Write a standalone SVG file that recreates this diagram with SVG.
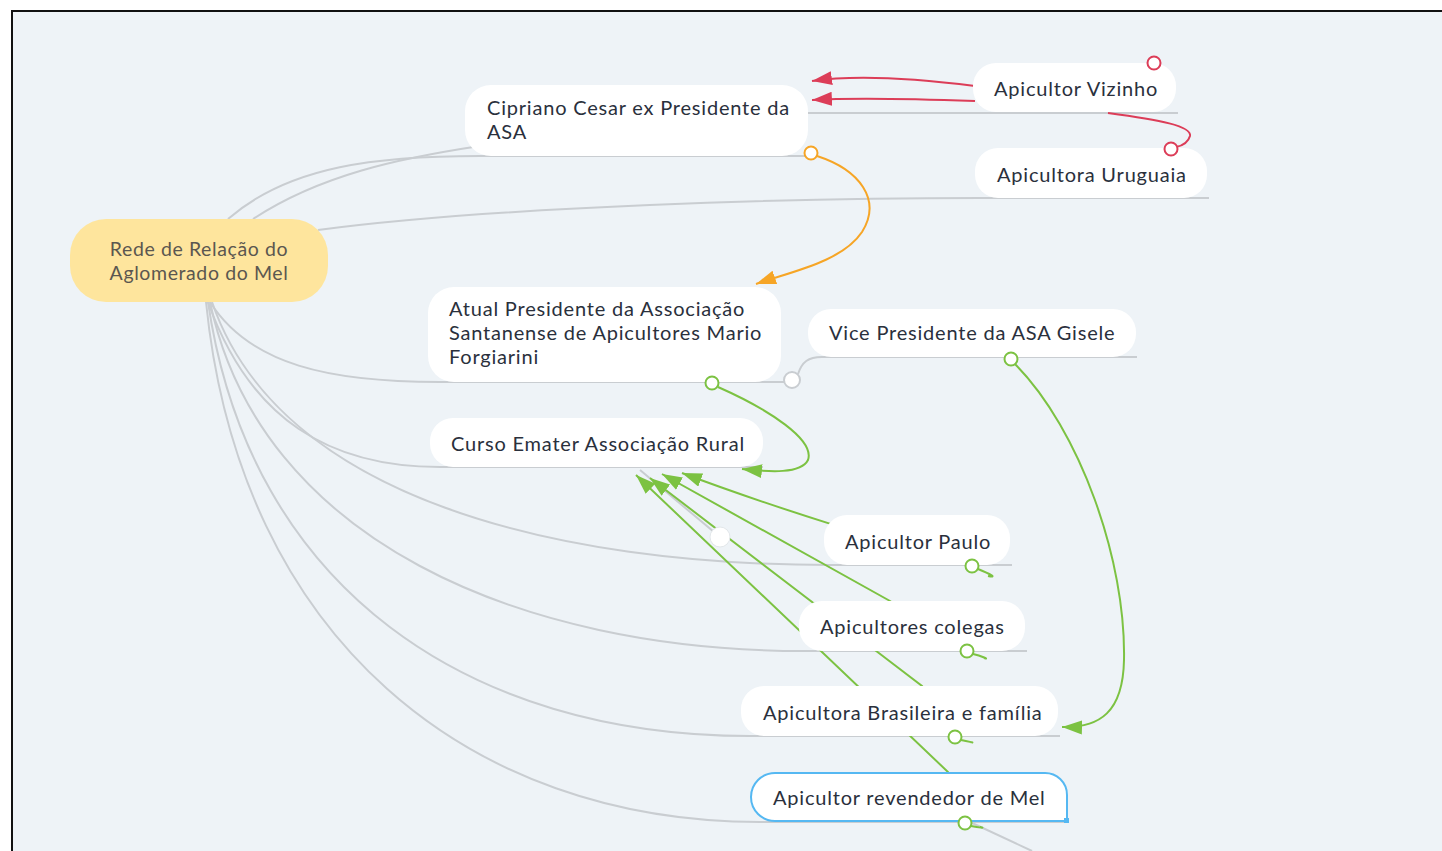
<svg xmlns="http://www.w3.org/2000/svg" width="1442" height="851" viewBox="0 0 1442 851">
<defs>
<style>
.bg{fill:#eef3f7}
.frame{fill:none;stroke:#111;stroke-width:2}
.br{fill:none;stroke:#c9cdd1;stroke-width:2}
.node{fill:#ffffff}
.root{fill:#fee59d}
.t{font-family:Lato,"Open Sans",sans-serif;font-size:20px;letter-spacing:0.8px;fill:#2a303c}
.rt{font-family:Lato,"Open Sans",sans-serif;font-size:19.5px;letter-spacing:0.6px;fill:#5b5750;text-anchor:middle}
.red{fill:none;stroke:#dc3d58;stroke-width:2}
.org{fill:none;stroke:#f6a526;stroke-width:2}
.grn{fill:none;stroke:#7cc242;stroke-width:2}
.hr{fill:#fff;stroke:#dc3d58;stroke-width:2}
.ho{fill:#fff;stroke:#f6a526;stroke-width:2}
.hg{fill:#fff;stroke:#7cc242;stroke-width:2}
</style>
<marker id="ar" viewBox="0 0 20 14" refX="20" refY="7" markerWidth="20" markerHeight="14" markerUnits="userSpaceOnUse" orient="auto"><path d="M0,0 L20,7 L0,14 Z" fill="#dc3d58"/></marker>
<marker id="ao" viewBox="0 0 20 14" refX="20" refY="7" markerWidth="20" markerHeight="14" markerUnits="userSpaceOnUse" orient="auto"><path d="M0,0 L20,7 L0,14 Z" fill="#f6a526"/></marker>
<marker id="ag" viewBox="0 0 20 14" refX="20" refY="7" markerWidth="20" markerHeight="14" markerUnits="userSpaceOnUse" orient="auto"><path d="M0,0 L20,7 L0,14 Z" fill="#7cc242"/></marker>
</defs>
<rect x="0" y="0" width="1442" height="851" fill="#ffffff"/>
<rect class="bg" x="11" y="10" width="1440" height="850"/>
<path class="frame" d="M12,851 L12,11 L1442,11"/>
<g id="connectors">
<path class="br" d="M228,219 C290,165 380,156 480,156 L808,156"/>
<path class="br" d="M253,219 C320,175 400,158 480,146 L808,113 L1178,113"/>
<path class="br" d="M318,230 C500,206 800,198 980,198 L1209,198"/>
<path class="br" d="M210,302 C250,365 330,382 440,382 L786,382"/>
<path class="br" d="M208,302 C250,420 330,467 440,467 L763,467"/>
<path class="br" d="M212,302 C280,500 560,565 830,565 L1012,565"/>
<path class="br" d="M210,302 C260,540 520,651 805,651 L1027,651"/>
<path class="br" d="M208,302 C250,590 470,736 750,736 L1060,736"/>
<path class="br" d="M206,302 C240,640 470,822 760,822 L1068,822"/>
<path class="br" d="M798,374 C802,362 808,357 822,357 L1137,357"/>
<path class="br" d="M640,470 L720,537"/>
<path class="br" d="M970,822 L1032,851"/>
<path class="red" d="M1108,113 C1160,120 1192,126 1190,136 C1188,143 1181,146 1176,147"/>
<path class="red" d="M975,86 C920,79 860,74 812,81" marker-end="url(#ar)"/>
<path class="red" d="M975,101 C920,99 860,97 812,100" marker-end="url(#ar)"/>
<path class="org" d="M817,156 C860,170 882,200 862,232 C842,262 790,272 756,284" marker-end="url(#ao)"/>
<path class="grn" d="M718,387 C770,410 815,440 808,460 C801,474 770,472 742,469" marker-end="url(#ag)"/>
<path class="grn" d="M1015,364 C1080,430 1126,560 1124,660 C1123,712 1100,728 1062,727" marker-end="url(#ag)"/>
<path class="grn" d="M972,566 C900,546 780,510 682,473" marker-end="url(#ag)"/>
<path class="grn" d="M967,651 L890,601 L662,474" marker-end="url(#ag)"/>
<path class="grn" d="M955,737 L922,686 L888,660 L650,478" marker-end="url(#ag)"/>
<path class="grn" d="M965,823 L948,772 L636,475" marker-end="url(#ag)"/>
<path class="grn" d="M978,569 C990,574 998,578 988,576"/>
<path class="grn" d="M973,654 C982,656 990,660 984,658"/>
<path class="grn" d="M961,740 C970,742 976,743 970,742"/>
<path class="grn" d="M971,826 C980,828 986,828 980,827"/>
</g>
<g id="n-root"><rect class="root" x="70" y="219" width="258" height="83" rx="36"/><text class="rt" x="199" y="256">Rede de Relação do</text><text class="rt" x="199" y="280">Aglomerado do Mel</text></g>
<g id="n-cipriano"><rect class="node" x="465" y="85" width="343" height="71" rx="26"/><text class="t" x="487" y="115">Cipriano Cesar ex Presidente da</text><text class="t" x="487" y="139">ASA</text></g>
<g id="n-vizinho"><rect class="node" x="973" y="63" width="203" height="49" rx="23"/><text class="t" x="994" y="96">Apicultor Vizinho</text></g>
<g id="n-uruguaia"><rect class="node" x="975" y="148" width="232" height="50" rx="23"/><text class="t" x="997" y="182">Apicultora Uruguaia</text></g>
<g id="n-atual"><rect class="node" x="428" y="287" width="353" height="95" rx="26"/><text class="t" x="449" y="316">Atual Presidente da Associação</text><text class="t" x="449" y="340">Santanense de Apicultores Mario</text><text class="t" x="449" y="364">Forgiarini</text></g>
<g id="n-vice"><rect class="node" x="808" y="309" width="328" height="48" rx="23"/><text class="t" x="829" y="340">Vice Presidente da ASA Gisele</text></g>
<g id="n-curso"><rect class="node" x="430" y="418" width="333" height="49" rx="23"/><text class="t" x="451" y="451">Curso Emater Associação Rural</text></g>
<g id="n-paulo"><rect class="node" x="824" y="515" width="186" height="50" rx="23"/><text class="t" x="845" y="549">Apicultor Paulo</text></g>
<g id="n-colegas"><rect class="node" x="799" y="601" width="226" height="50" rx="23"/><text class="t" x="820" y="634">Apicultores colegas</text></g>
<g id="n-brasileira"><rect class="node" x="741" y="686" width="317" height="50" rx="23"/><text class="t" x="763" y="720">Apicultora Brasileira e família</text></g>
<g id="n-revendedor"><path d="M775,773 L1044,773 A22,22 0 0 1 1067,795 L1067,821 L775,821 A24,24 0 0 1 775,773 Z" fill="#fff" stroke="#55b8f2" stroke-width="2"/><rect x="1064" y="818" width="5" height="5" fill="#55b8f2"/><text class="t" x="773" y="805">Apicultor revendedor de Mel</text></g>
<g id="handles">
<circle class="hr" cx="1154" cy="63" r="6.5"/>
<circle class="hr" cx="1171" cy="149" r="6.5"/>
<circle class="ho" cx="811" cy="153" r="6.5"/>
<circle class="hg" cx="712" cy="383" r="6.5"/>
<circle class="hg" cx="1011" cy="359" r="6.5"/>
<circle class="hg" cx="972" cy="566" r="6.5"/>
<circle class="hg" cx="967" cy="651" r="6.5"/>
<circle class="hg" cx="955" cy="737" r="6.5"/>
<circle class="hg" cx="965" cy="823" r="6.5"/>
<circle cx="792" cy="380" r="8" fill="#fff" stroke="#c9cdd1" stroke-width="2"/>
<circle cx="720" cy="537" r="10" fill="#fff" stroke="#e3e7ea" stroke-width="1"/>
</g>
</svg>
